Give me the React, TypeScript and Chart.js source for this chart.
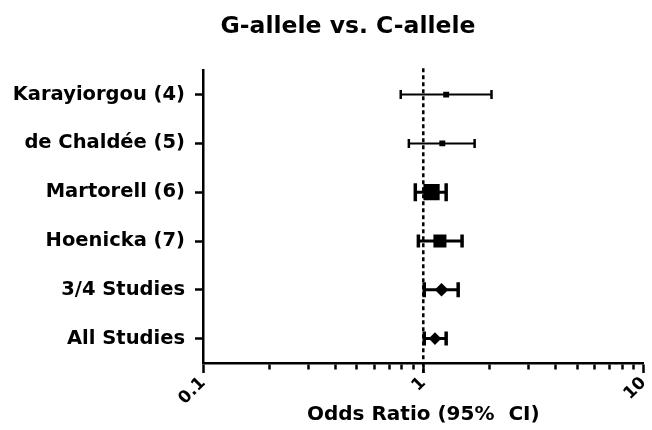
import React, { useEffect, useRef } from 'react';
import { Chart, registerables } from 'chart.js';

Chart.register(...registerables);

const studies = ['Karayiorgou (4)', 'de Chaldée (5)', 'Martorell (6)', 'Hoenicka (7)', '3/4 Studies', 'All Studies'];
const oddsRatio = [1.27, 1.22, 1.09, 1.19, 1.21, 1.13];
const ciLow = [0.79, 0.86, 0.92, 0.95, 1.01, 1.01];
const ciHigh = [2.04, 1.71, 1.27, 1.5, 1.44, 1.27];
const xTickValues = [0.1, 0.2, 0.3, 0.4, 0.5, 0.6, 0.7, 0.8, 0.9, 1, 2, 3, 4, 5, 6, 7, 8, 9, 10];
const xTickLabels = ['0.1', '1', '10'];
const referenceOR = 1;

// styling per row
const markerShape = ['rect', 'rect', 'rect', 'rect', 'rectRot', 'rectRot'];
const markerRadius = [4.2, 4.2, 11.5, 9.2, 6.8, 6.3];
const capRadius = [4.5, 4.5, 9, 6.5, 7.5, 7];
const lineWidths = [2, 2, 3, 3, 3, 3];

const WIDE = "'DejaVu Sans', 'Liberation Sans', sans-serif";

const refLinePlugin = {
  id: 'refLine',
  afterLayout(chart: any) {
    const t = chart.titleBlock;
    if (t) t.left += 44;
  },
  beforeDatasetsDraw(chart: any) {
    const ctx = chart.ctx;
    const x = chart.scales.x.getPixelForValue(referenceOR);
    const { top, bottom } = chart.chartArea;
    ctx.save();
    ctx.setLineDash([4, 3]);
    ctx.lineWidth = 2.5;
    ctx.strokeStyle = '#000';
    ctx.beginPath();
    ctx.moveTo(x, top - 2);
    ctx.lineTo(x, bottom + 10);
    ctx.stroke();
    ctx.restore();
  },
};

export default function App() {
  const ref = useRef<HTMLCanvasElement>(null);
  useEffect(() => {
    if (!ref.current) return;
    const markerDataset: any = {
      type: 'scatter',
      data: studies.map((s, i) => ({ x: oddsRatio[i], y: s })),
      pointStyle: markerShape,
      pointRadius: markerRadius,
      backgroundColor: '#000',
      borderColor: '#000',
      borderWidth: 0,
      pointBorderWidth: 0,
      showLine: false,
    };
    const ciDatasets: any[] = studies.map((s, i) => ({
      type: 'line',
      data: [
        { x: ciLow[i], y: s },
        { x: ciHigh[i], y: s },
      ],
      borderColor: '#000',
      backgroundColor: '#000',
      borderWidth: lineWidths[i],
      pointStyle: 'line',
      pointRotation: 90,
      pointRadius: capRadius[i],
      pointBorderWidth: lineWidths[i] + 0.5,
      pointBorderColor: '#000',
      fill: false,
    }));
    const chart = new Chart(ref.current, {
      type: 'scatter',
      data: { labels: studies, datasets: [markerDataset, ...ciDatasets] },
      plugins: [refLinePlugin],
      options: {
        animation: false,
        responsive: false,
        devicePixelRatio: 1,
        layout: { padding: { left: 0, right: 6, top: 0, bottom: 0 } },
        plugins: {
          legend: { display: false },
          tooltip: { enabled: false },
          title: {
            display: true,
            text: 'G-allele vs. C-allele',
            color: '#000',
            font: { family: WIDE, size: 23.5, weight: 'bold' },
            padding: { top: 13, bottom: 29 },
          },
        },
        scales: {
          x: {
            type: 'logarithmic',
            min: 0.1,
            max: 10,
            afterBuildTicks: (s: any) => {
              s.ticks = xTickValues.map((v) => ({ value: v }));
            },
            afterFit: (s: any) => {
              s.height = 67;
            },
            ticks: {
              autoSkip: false,
              minRotation: 45,
              maxRotation: 45,
              color: '#000',
              padding: 0,
              font: { family: WIDE, size: 17, weight: 'bold' },
              callback: (v: any) => {
                const t = String(v);
                return xTickLabels.includes(t) ? t : '';
              },
            },
            grid: {
              display: true,
              drawOnChartArea: false,
              drawTicks: true,
              tickLength: 10,
              tickWidth: 2.5,
              tickColor: '#000',
              tickBorderDash: (ctx: any) =>
                xTickLabels.includes(String(ctx.tick && ctx.tick.value)) ? [] : [5, 20],
            },
            border: { display: true, color: '#000', width: 2.5 },
            title: {
              display: true,
              text: 'Odds Ratio (95%  CI)',
              color: '#000',
              font: { family: WIDE, size: 20, weight: 'bold' },
              padding: { top: 0, bottom: 3 },
            },
          },
          y: {
            type: 'category',
            labels: studies,
            offset: true,
            afterFit: (s: any) => {
              s.width = 203;
              s.paddingTop = 0;
              s.paddingBottom = 0;
            },
            ticks: {
              color: '#000',
              padding: 10,
              font: { family: WIDE, size: 19.5, weight: 'bold' },
            },
            grid: {
              display: true,
              drawOnChartArea: false,
              drawTicks: true,
              tickLength: 8,
              tickWidth: 2.5,
              tickColor: '#000',
            },
            border: { display: true, color: '#000', width: 2.5 },
          },
        },
      } as any,
    });
    return () => chart.destroy();
  }, []);
  return (
    <div style={{ position: 'fixed', left: 0, top: 0, width: 652, height: 430, overflow: 'hidden', background: '#fff' }}>
      <canvas ref={ref} width={658} height={430} />
    </div>
  );
}
